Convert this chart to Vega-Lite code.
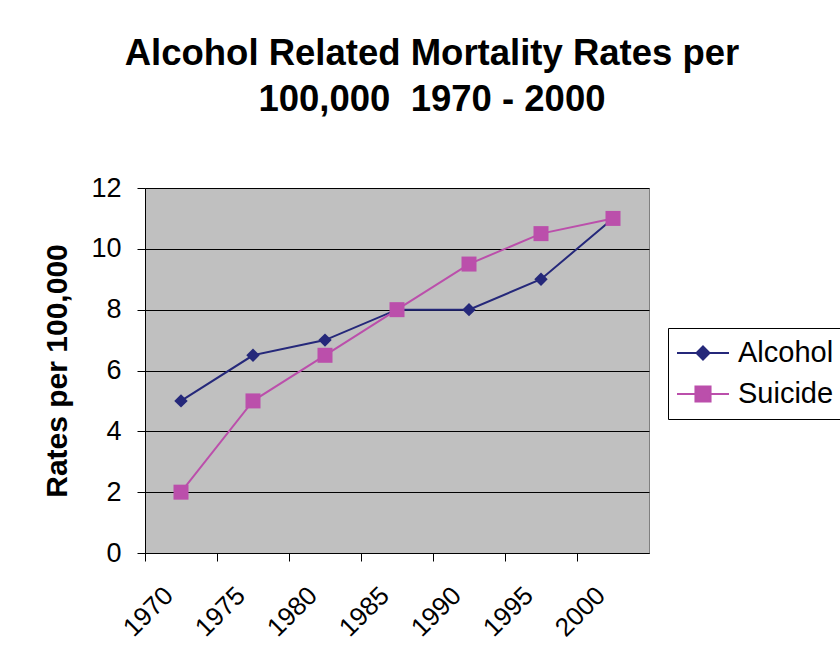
{
  "$schema": "https://vega.github.io/schema/vega-lite/v6.json",
  "width": 504,
  "height": 365,
  "padding": {"left": 42, "top": 35, "right": 0, "bottom": 0},
  "background": "white",
  "title": {
    "text": ["Alcohol Related Mortality Rates per", "100,000\u00a0 1970 - 2000"],
    "font": "Liberation Sans",
    "fontSize": 36.5,
    "fontWeight": "bold",
    "color": "black",
    "anchor": "middle",
    "frame": "group",
    "dx": 35,
    "lineHeight": 46,
    "offset": 56
  },
  "data": {
    "values": [
      {"year": "1970", "series": "Alcohol", "rate": 5},
      {"year": "1975", "series": "Alcohol", "rate": 6.5},
      {"year": "1980", "series": "Alcohol", "rate": 7},
      {"year": "1985", "series": "Alcohol", "rate": 8},
      {"year": "1990", "series": "Alcohol", "rate": 8},
      {"year": "1995", "series": "Alcohol", "rate": 9},
      {"year": "2000", "series": "Alcohol", "rate": 11},
      {"year": "1970", "series": "Suicide", "rate": 2},
      {"year": "1975", "series": "Suicide", "rate": 5},
      {"year": "1980", "series": "Suicide", "rate": 6.5},
      {"year": "1985", "series": "Suicide", "rate": 8},
      {"year": "1990", "series": "Suicide", "rate": 9.5},
      {"year": "1995", "series": "Suicide", "rate": 10.5},
      {"year": "2000", "series": "Suicide", "rate": 11}
    ]
  },
  "encoding": {
    "x": {
      "field": "year",
      "type": "ordinal",
      "scale": {"type": "band", "paddingInner": 0, "paddingOuter": 0},
      "axis": {
        "title": null,
        "bandPosition": 0,
        "labelAngle": -45,
        "labelAlign": "right",
        "labelBaseline": "middle",
        "labelOffset": -12,
        "labelPadding": 30,
        "labelFont": "Liberation Sans",
        "labelFontSize": 26,
        "labelColor": "black",
        "tickSize": 8,
        "tickColor": "black",
        "domainColor": "black",
        "grid": false
      }
    },
    "y": {
      "field": "rate",
      "type": "quantitative",
      "scale": {"domain": [0, 12], "nice": false},
      "axis": {
        "title": "Rates per 100,000",
        "titleFont": "Liberation Sans",
        "titleFontSize": 30,
        "titleFontWeight": "bold",
        "titleColor": "black",
        "titlePadding": 18,
        "values": [0, 2, 4, 6, 8, 10, 12],
        "labelFont": "Liberation Sans",
        "labelFontSize": 27,
        "labelColor": "black",
        "labelPadding": 16,
        "tickSize": 8,
        "tickColor": "black",
        "domainColor": "black",
        "grid": true,
        "gridColor": "black",
        "gridOpacity": 1,
        "gridWidth": 1
      }
    },
    "color": {
      "field": "series",
      "type": "nominal",
      "scale": {"domain": ["Alcohol", "Suicide"], "range": ["#25287A", "#BB4FAB"]},
      "legend": {
        "title": null,
        "orient": "none",
        "legendX": 523,
        "legendY": 140,
        "padding": 8,
        "strokeColor": "black",
        "fillColor": "white",
        "labelFont": "Liberation Sans",
        "labelFontSize": 29,
        "labelColor": "black",
        "labelOffset": 8,
        "symbolSize": 2704,
        "symbolStrokeWidth": 2,
        "clipHeight": 34,
        "rowPadding": 7,
        "encode": {
          "symbols": {
            "update": {
              "shape": {"signal": "datum.value === 'Alcohol' ? 'M-1,0H1M0,-0.25L0.25,0L0,0.25L-0.25,0Z' : 'M-1,0H1M-0.29,-0.29H0.29V0.29H-0.29Z'"},
              "size": {"value": 2704},
              "stroke": {"signal": "scale('color', datum.value)"},
              "fill": {"signal": "scale('color', datum.value)"},
              "strokeWidth": {"value": 2},
              "opacity": {"value": 1}
            }
          }
        }
      }
    }
  },
  "layer": [
    {
      "mark": {"type": "line", "strokeWidth": 2}
    },
    {
      "transform": [{"filter": "datum.series === 'Alcohol'"}],
      "mark": {"type": "point", "filled": true, "opacity": 1, "shape": "diamond", "size": 180}
    },
    {
      "transform": [{"filter": "datum.series === 'Suicide'"}],
      "mark": {"type": "point", "filled": true, "opacity": 1, "shape": "square", "size": 225}
    }
  ],
  "config": {
    "view": {"fill": "#C0C0C0", "stroke": "#808080", "strokeWidth": 1},
    "font": "Liberation Sans"
  }
}
